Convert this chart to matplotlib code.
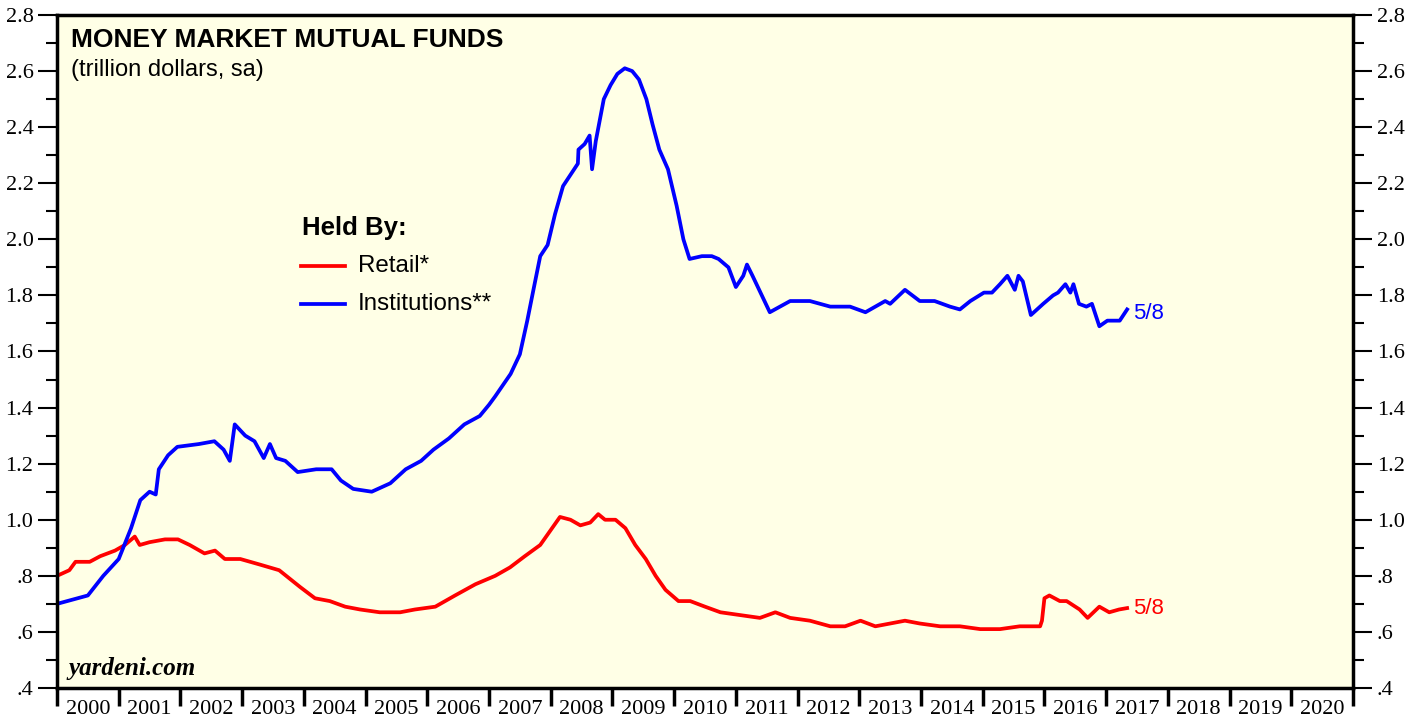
import numpy as np
import matplotlib.pyplot as plt
from matplotlib.ticker import FixedLocator, FuncFormatter

# Money market mutual funds, trillion dollars
inst_t = [2000.0, 2000.5, 2000.75, 2001.0, 2001.2, 2001.35, 2001.5, 2001.6, 2001.65, 2001.8,
          2001.95, 2002.3, 2002.55, 2002.7, 2002.8, 2002.88, 2003.05, 2003.2, 2003.35, 2003.45,
          2003.55, 2003.7, 2003.9, 2004.2, 2004.45, 2004.6, 2004.8, 2005.1, 2005.4, 2005.65,
          2005.9, 2006.1, 2006.35, 2006.6, 2006.85, 2007.0, 2007.1, 2007.35, 2007.5, 2007.62,
          2007.72, 2007.83, 2007.95, 2008.07, 2008.2, 2008.44, 2008.45, 2008.55, 2008.63, 2008.67,
          2008.73, 2008.86, 2008.97, 2009.08, 2009.2, 2009.32, 2009.43, 2009.55, 2009.65, 2009.76,
          2009.9, 2010.04, 2010.15, 2010.25, 2010.45, 2010.61, 2010.72, 2010.88, 2011.0, 2011.12,
          2011.18, 2011.27, 2011.55, 2011.88, 2012.2, 2012.53, 2012.85, 2013.1, 2013.34, 2013.42,
          2013.5, 2013.74, 2013.98, 2014.22, 2014.47, 2014.63, 2014.8, 2015.02, 2015.15, 2015.28,
          2015.4, 2015.52, 2015.58, 2015.65, 2015.78, 2015.98, 2016.14, 2016.22, 2016.34, 2016.42,
          2016.47, 2016.56, 2016.68, 2016.77, 2016.89, 2017.02, 2017.1, 2017.22, 2017.34]
inst_v = [0.70, 0.73, 0.80, 0.86, 0.97, 1.07, 1.10, 1.09, 1.18, 1.23,
          1.26, 1.27, 1.28, 1.25, 1.21, 1.34, 1.30, 1.28, 1.22, 1.27,
          1.22, 1.21, 1.17, 1.18, 1.18, 1.14, 1.11, 1.10, 1.13, 1.18,
          1.21, 1.25, 1.29, 1.34, 1.37, 1.41, 1.44, 1.52, 1.59, 1.71,
          1.82, 1.94, 1.98, 2.09, 2.19, 2.27, 2.32, 2.34, 2.37, 2.25,
          2.35, 2.50, 2.55, 2.59, 2.61, 2.60, 2.57, 2.50, 2.41, 2.32,
          2.25, 2.12, 2.00, 1.93, 1.94, 1.94, 1.93, 1.90, 1.83, 1.87,
          1.91, 1.87, 1.74, 1.78, 1.78, 1.76, 1.76, 1.74, 1.77, 1.78,
          1.77, 1.82, 1.78, 1.78, 1.76, 1.75, 1.78, 1.81, 1.81, 1.84,
          1.87, 1.82, 1.87, 1.85, 1.73, 1.77, 1.80, 1.81, 1.84, 1.81,
          1.84, 1.77, 1.76, 1.77, 1.69, 1.71, 1.71, 1.71, 1.75]

retail_t = [2000.0, 2000.2, 2000.3, 2000.53, 2000.7, 2000.94, 2001.1, 2001.26, 2001.34, 2001.5,
            2001.75, 2001.96, 2002.15, 2002.39, 2002.56, 2002.72, 2002.97, 2003.29, 2003.6, 2003.77,
            2003.94, 2004.18, 2004.42, 2004.67, 2004.91, 2005.23, 2005.56, 2005.8, 2006.13, 2006.45,
            2006.78, 2007.1, 2007.34, 2007.58, 2007.83, 2007.99, 2008.15, 2008.32, 2008.48, 2008.64,
            2008.77, 2008.88, 2009.05, 2009.21, 2009.37, 2009.54, 2009.7, 2009.86, 2010.07, 2010.26,
            2010.5, 2010.75, 2011.07, 2011.39, 2011.64, 2011.88, 2012.2, 2012.53, 2012.77, 2013.02,
            2013.26, 2013.5, 2013.74, 2013.98, 2014.31, 2014.63, 2014.96, 2015.28, 2015.6, 2015.93,
            2015.96, 2016.0, 2016.08, 2016.25, 2016.36, 2016.57, 2016.7, 2016.89, 2017.05, 2017.21,
            2017.34]
retail_v = [0.80, 0.82, 0.85, 0.85, 0.87, 0.89, 0.91, 0.94, 0.91, 0.92,
            0.93, 0.93, 0.91, 0.88, 0.89, 0.86, 0.86, 0.84, 0.82, 0.79,
            0.76, 0.72, 0.71, 0.69, 0.68, 0.67, 0.67, 0.68, 0.69, 0.73,
            0.77, 0.80, 0.83, 0.87, 0.91, 0.96, 1.01, 1.00, 0.98, 0.99,
            1.02, 1.00, 1.00, 0.97, 0.91, 0.86, 0.80, 0.75, 0.71, 0.71,
            0.69, 0.67, 0.66, 0.65, 0.67, 0.65, 0.64, 0.62, 0.62, 0.64,
            0.62, 0.63, 0.64, 0.63, 0.62, 0.62, 0.61, 0.61, 0.62, 0.62,
            0.64, 0.72, 0.73, 0.71, 0.71, 0.68, 0.65, 0.69, 0.67, 0.68,
            0.685]

years = list(range(2000, 2021))
yticks = [0.4, 0.6, 0.8, 1.0, 1.2, 1.4, 1.6, 1.8, 2.0, 2.2, 2.4, 2.6, 2.8]

RED = '#ff0000'
BLUE = '#0000ff'
BG = '#ffffe6'

fig = plt.figure(figsize=(14.17, 7.17), dpi=100)
ax = fig.add_axes([57 / 1417, 1 - 688 / 717, (1353 - 57) / 1417, (688 - 15) / 717])
ax.set_facecolor(BG)

ax.plot(retail_t, retail_v, color=RED, lw=2.7, solid_joinstyle='round')
ax.plot(inst_t, inst_v, color=BLUE, lw=2.7, solid_joinstyle='round')

ax.set_xlim(2000, 2021)
ax.set_ylim(0.4, 2.8)

# y axis: labels on both sides, minor ticks every .1
def yfmt(v, pos):
    s = f'{v:.1f}'
    return s[1:] if s.startswith('0') else s

ax.yaxis.set_major_locator(FixedLocator(yticks))
ax.yaxis.set_minor_locator(FixedLocator(np.arange(0.5, 2.8, 0.2)))
ax.yaxis.set_major_formatter(FuncFormatter(yfmt))
ax.tick_params(axis='y', which='major', direction='out', length=14, width=1.5,
               left=True, right=True, labelleft=True, labelright=True,
               labelsize=16, pad=3)
ax.tick_params(axis='y', which='minor', direction='out', length=8, width=1.5,
               left=True, right=True)
for lab in ax.get_yticklabels():
    lab.set_fontfamily('Liberation Serif')

# x axis: ticks at year boundaries, labels centred in each year
ax.xaxis.set_major_locator(FixedLocator(list(range(2000, 2022))))
ax.xaxis.set_major_formatter(FuncFormatter(lambda v, p: ''))
ax.xaxis.set_minor_locator(FixedLocator([y + 0.5 for y in years]))
ax.xaxis.set_minor_formatter(FuncFormatter(lambda v, p: str(int(v))))
ax.tick_params(axis='x', which='major', direction='out', length=13, width=2.5)
ax.tick_params(axis='x', which='minor', length=0, labelsize=16, pad=9)
for lab in ax.xaxis.get_minorticklabels():
    lab.set_fontfamily('Liberation Serif')

for sp in ax.spines.values():
    sp.set_linewidth(2.5)

sans = 'Liberation Sans'
ax.text(0.011, 0.980, 'MONEY MARKET MUTUAL FUNDS', transform=ax.transAxes,
        fontsize=19, fontweight='bold', family=sans, va='top', ha='left')
ax.text(0.011, 0.934, '(trillion dollars, sa)', transform=ax.transAxes,
        fontsize=17, family=sans, va='top', ha='left')

# legend drawn by hand
ax.text(0.189, 0.684, 'Held By:', transform=ax.transAxes, fontsize=18.5,
        fontweight='bold', family=sans, va='center', ha='left')
ax.plot([0.188, 0.222], [0.627, 0.627], transform=ax.transAxes, color=RED, lw=2.7)
ax.plot([0.188, 0.222], [0.570, 0.570], transform=ax.transAxes, color=BLUE, lw=2.7)
ax.text(0.232, 0.627, 'Retail*', transform=ax.transAxes, fontsize=17.4,
        family=sans, va='center', ha='left')
ax.text(0.232, 0.570, 'Institutions**', transform=ax.transAxes, fontsize=17.4,
        family=sans, va='center', ha='left')

ax.text(inst_t[-1] + 0.09, inst_v[-1] - 0.015, '5/8', color=BLUE, fontsize=16,
        family=sans, va='center', ha='left')
ax.text(retail_t[-1] + 0.09, retail_v[-1], '5/8', color=RED, fontsize=16,
        family=sans, va='center', ha='left')

ax.text(0.009, 0.012, 'yardeni.com', transform=ax.transAxes, fontsize=18,
        fontweight='bold', style='italic', family='Liberation Serif',
        va='bottom', ha='left')

fig.savefig('out.png', dpi=100, facecolor='white')
